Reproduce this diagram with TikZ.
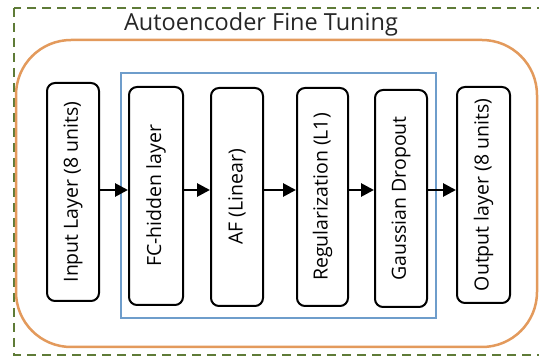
\documentclass[tikz,border=0pt]{standalone}
\usepackage{fontspec}
\setmainfont{Open Sans}
\usetikzlibrary{arrows.meta}
\definecolor{dashgreen}{HTML}{5E7B37}
\definecolor{frameorange}{HTML}{E39A5C}
\definecolor{frameblue}{HTML}{6E9DCB}
\tikzset{
  layerbox/.style={draw=black, line width=2pt, rounded corners=8pt, fill=white,
    minimum width=52pt, minimum height=218pt, inner sep=0pt,
    font=\fontsize{19.5pt}{23pt}\selectfont},
  flowarrow/.style={line width=2.8pt, -{Triangle[length=13pt,width=13pt]}}
}
\begin{document}
\begin{tikzpicture}[x=1pt,y=-1pt]
\useasboundingbox (0,0) rectangle (539,358);
\fill[white] (0,0) rectangle (539,358);
% outer dashed frame
\draw[dashgreen, line width=2pt, dash pattern=on 9pt off 6pt] (14,8) rectangle (548,355);
% title
\node[font=\fontsize{23.5pt}{27pt}\selectfont, text=black!85] (title) at (261,24) {Autoencoder Fine Tuning};
% orange frame
\draw[frameorange, line width=2.5pt, rounded corners=55pt] (16,40) rectangle (537,347);
% blue frame
\draw[frameblue, line width=1.8pt] (121,73) rectangle (436,318);
% boxes
\node[layerbox] (in)  at (73,192)  {\rotatebox{90}{Input Layer (8 units)}};
\node[layerbox, minimum width=54pt] (fc)  at (156,196) {\rotatebox{90}{FC-hidden layer}};
\node[layerbox] (af)  at (237,197) {\rotatebox{90}{AF (Linear)}};
\node[layerbox, minimum width=51pt] (reg) at (322.5,197) {\rotatebox{90}{Regularization (L1)}};
\node[layerbox, minimum height=217pt] (gd)  at (401,198.5) {\rotatebox{90}{Gaussian Dropout}};
\node[layerbox, minimum width=53pt, minimum height=216pt] (out) at (483.5,195) {\rotatebox{90}{Output layer (8 units)}};
\coordinate (ay) at (0,190);
\draw[flowarrow] (in.east |- ay) -- (fc.west |- ay);
\draw[flowarrow] (fc.east |- ay) -- (af.west |- ay);
\draw[flowarrow] (af.east |- ay) -- (reg.west |- ay);
\draw[flowarrow] (reg.east |- ay) -- (gd.west |- ay);
\draw[flowarrow] (gd.east |- ay) -- (out.west |- ay);
\end{tikzpicture}
\end{document}
